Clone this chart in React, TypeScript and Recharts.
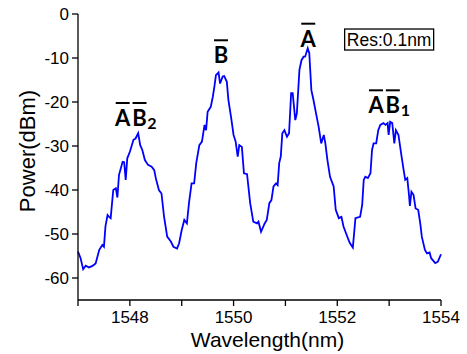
import { LineChart, Line, XAxis, YAxis, ReferenceDot } from "recharts";

// spectrum (nm, dBm)
const wavelength = [
  1547.0, 1547.05, 1547.1, 1547.15, 1547.21, 1547.27, 1547.31, 1547.34, 1547.41, 1547.47,
  1547.5, 1547.53, 1547.57, 1547.6, 1547.63, 1547.68, 1547.73, 1547.76, 1547.79, 1547.86,
  1547.89, 1547.92, 1547.95, 1548.0, 1548.07, 1548.11, 1548.16, 1548.2, 1548.24, 1548.29,
  1548.35, 1548.42, 1548.47, 1548.5, 1548.56, 1548.61, 1548.66, 1548.72, 1548.79, 1548.84,
  1548.91, 1548.95, 1549.0, 1549.05, 1549.1, 1549.14, 1549.19, 1549.24, 1549.28, 1549.34,
  1549.39, 1549.44, 1549.47, 1549.5, 1549.56, 1549.6, 1549.63, 1549.66, 1549.71, 1549.74,
  1549.79, 1549.82, 1549.87, 1549.9, 1549.95, 1550.0, 1550.04, 1550.08, 1550.11, 1550.16,
  1550.2, 1550.26, 1550.32, 1550.38, 1550.45, 1550.48, 1550.53, 1550.6, 1550.64, 1550.69,
  1550.73, 1550.77, 1550.82, 1550.85, 1550.88, 1550.91, 1550.94, 1550.98, 1551.03, 1551.07,
  1551.11, 1551.14, 1551.19, 1551.22, 1551.27, 1551.31, 1551.35, 1551.38, 1551.43, 1551.46,
  1551.5, 1551.54, 1551.59, 1551.64, 1551.69, 1551.74, 1551.77, 1551.81, 1551.86, 1551.93,
  1551.97, 1552.03, 1552.08, 1552.12, 1552.19, 1552.24, 1552.3, 1552.35, 1552.4, 1552.44,
  1552.48, 1552.51, 1552.54, 1552.59, 1552.64, 1552.67, 1552.7, 1552.75, 1552.79, 1552.83,
  1552.89, 1552.93, 1552.97, 1552.99, 1553.02, 1553.06, 1553.1, 1553.13, 1553.18, 1553.24,
  1553.28, 1553.31, 1553.35, 1553.38, 1553.4, 1553.43, 1553.47, 1553.51, 1553.56, 1553.6,
  1553.63, 1553.69, 1553.73, 1553.78, 1553.81, 1553.89, 1553.94, 1554.0,
];

const power = [
  -54.0, -55.5, -58.0, -57.2, -57.6, -57.3, -57.0, -56.7, -53.6, -52.5,
  -52.9, -48.2, -45.7, -46.1, -46.4, -40.0, -39.6, -41.7, -36.6, -33.6,
  -33.7, -37.7, -32.8, -31.3, -28.6, -28.3, -27.1, -29.8, -30.9, -33.2,
  -34.3, -34.7, -35.5, -37.3, -40.0, -40.8, -46.1, -50.6, -51.7, -52.9,
  -53.3, -52.1, -49.1, -46.8, -47.6, -43.0, -38.5, -38.5, -33.9, -29.8,
  -29.0, -25.2, -26.4, -22.2, -21.1, -18.8, -16.5, -13.9, -13.3, -15.8,
  -14.2, -14.1, -15.4, -19.5, -23.3, -27.5, -29.0, -32.4, -29.8, -30.2,
  -36.2, -36.4, -43.0, -47.2, -47.6, -47.2, -49.5, -47.6, -46.8, -43.0,
  -42.3, -39.2, -38.5, -38.9, -33.9, -32.4, -27.1, -26.4, -27.9, -27.1,
  -18.0, -18.0, -24.1, -22.6, -12.7, -10.5, -9.7, -9.7, -7.8, -8.9,
  -17.3, -19.5, -22.6, -25.6, -29.4, -27.5, -29.4, -33.2, -37.0, -39.2,
  -44.5, -46.4, -46.1, -48.3, -50.5, -52.0, -53.1, -46.4, -46.2, -46.1,
  -43.4, -37.7, -37.0, -37.3, -36.2, -30.9, -29.4, -29.4, -26.4, -25.2,
  -24.8, -25.2, -24.8, -27.5, -24.5, -24.8, -29.4, -26.4, -27.5, -32.4,
  -35.5, -37.7, -37.3, -40.8, -43.6, -40.4, -41.1, -44.2, -44.5, -47.6,
  -50.6, -53.6, -54.4, -54.2, -55.5, -56.6, -56.3, -54.6,
];

const xTicks = [1547, 1548, 1549, 1550, 1551, 1552, 1553, 1554];
const yTicks = [-65, -60, -55, -50, -45, -40, -35, -30, -25, -20, -15, -10, -5, 0];

// peak annotations (overlined letters + optional subscript)
const peakLetters = [["A", "B"], ["B"], ["A"], ["A", "B"]];
const peakSubs = ["2", "", "", "1"];
const peakX = [1548.13, 1549.757, 1551.44, 1553.015];
const peakY = [-25.45, -11.2, -7.43, -22.57];

const data = wavelength.map((w, i) => ({ w, p: power[i] }));

const FONT = "'Liberation Sans', Arial, sans-serif";
const LABEL_FONT = "Lato, 'Noto Sans', sans-serif";

function LeftTick(props: any) {
  const { x, y, payload } = props;
  const major = payload.value % 10 === 0;
  return (
    <g>
      <line x1={x - (major ? 6 : 3)} x2={x} y1={y} y2={y} stroke="#000" strokeWidth={1.3} />
      {major && (
        <text x={x - 9} y={y} dy="0.355em" textAnchor="end" fontSize={17} fontFamily={FONT} fill="#000">
          {payload.value}
        </text>
      )}
    </g>
  );
}

// inward ticks for the top and right frame edges
function TopTick(props: any) {
  const { x } = props;
  return <line x1={x} x2={x} y1={14} y2={18} stroke="#000" strokeWidth={1.3} />;
}

function RightTick(props: any) {
  const { y } = props;
  return <line x1={437} x2={441} y1={y} y2={y} stroke="#000" strokeWidth={1.3} />;
}

function PeakLabel(props: any) {
  const { viewBox, letters, sub } = props;
  const cx = viewBox.x + viewBox.width / 2;
  const base = viewBox.y + viewBox.height / 2;
  const step = 16.8;
  const total = 15 + step * (letters.length - 1) + (sub ? 11 : 0);
  const start = cx - total / 2;
  return (
    <g>
      {letters.map((l: string, i: number) => {
        const lx = start + 7.5 + step * i;
        return (
          <g key={i}>
            <text x={lx} y={base} textAnchor="middle" fontSize={22} fontWeight={700} fontFamily={LABEL_FONT} fill="#000">
              {l}
            </text>
            <line x1={lx - 7} x2={lx + 7} y1={base - 23} y2={base - 23} stroke="#000" strokeWidth={2} />
          </g>
        );
      })}
      {sub && (
        <text
          x={start + 7.5 + step * (letters.length - 1) + 12.5}
          y={base + 3}
          textAnchor="middle"
          fontSize={16}
          fontWeight={700}
          fontFamily={LABEL_FONT}
          fill="#000"
        >
          {sub}
        </text>
      )}
    </g>
  );
}

function ResBox(props: any) {
  const { viewBox } = props;
  const cx = viewBox.x + viewBox.width / 2;
  const cy = viewBox.y + viewBox.height / 2;
  return (
    <g>
      <rect x={cx - 44.5} y={cy - 10.5} width={89} height={21} fill="#fff" stroke="#000" strokeWidth={1.3} />
      <text x={cx} y={cy + 6.5} textAnchor="middle" fontSize={17.5} fontFamily={FONT} fill="#000">
        Res:0.1nm
      </text>
    </g>
  );
}

function XTitle(props: any) {
  const { viewBox } = props;
  return (
    <text x={viewBox.x + viewBox.width / 2 + 8} y={346.5} textAnchor="middle" fontSize={21} fontFamily={FONT} fill="#000">
      Wavelength(nm)
    </text>
  );
}

function YTitle(props: any) {
  const { viewBox } = props;
  const x = 35;
  const y = viewBox.y + viewBox.height / 2 - 6;
  return (
    <text x={x} y={y} transform={`rotate(-90 ${x} ${y})`} textAnchor="middle" fontSize={22} fontFamily={FONT} fill="#000">
      Power(dBm)
    </text>
  );
}

export default function App() {
  return (
    <div style={{ position: "absolute", left: 0, top: 0, width: 467, height: 354, background: "#fff" }}>
      <LineChart width={467} height={354} data={data} margin={{ top: 14, right: 26, bottom: 0, left: 0 }}>
        <XAxis
          xAxisId="b"
          dataKey="w"
          type="number"
          domain={[1547, 1554]}
          ticks={xTicks}
          height={54}
          tickSize={6}
          tickMargin={5}
          tickFormatter={(v: number) => (v % 2 === 0 ? String(v) : "")}
          tick={{ fontSize: 17, fontFamily: FONT, fill: "#000" }}
          axisLine={{ stroke: "#000", strokeWidth: 1.3 }}
          tickLine={{ stroke: "#000", strokeWidth: 1.3 }}
          label={<XTitle />}
        />
        <XAxis
          xAxisId="t"
          orientation="top"
          dataKey="w"
          type="number"
          domain={[1547, 1554]}
          ticks={xTicks}
          height={0}
          tickLine={false}
          tick={<TopTick />}
          axisLine={{ stroke: "#000", strokeWidth: 1.3 }}
        />
        <YAxis
          yAxisId="l"
          type="number"
          domain={[-65, 0]}
          ticks={yTicks}
          width={78}
          tickSize={0}
          tickMargin={0}
          tickLine={false}
          tick={<LeftTick />}
          axisLine={{ stroke: "#000", strokeWidth: 1.3 }}
          label={<YTitle />}
        />
        <YAxis
          yAxisId="r"
          orientation="right"
          type="number"
          domain={[-65, 0]}
          ticks={yTicks}
          width={0}
          tickLine={false}
          tick={<RightTick />}
          axisLine={{ stroke: "#000", strokeWidth: 1.3 }}
        />
        <Line
          xAxisId="b"
          yAxisId="l"
          dataKey="p"
          type="linear"
          stroke="#0000ff"
          strokeWidth={1.8}
          dot={false}
          isAnimationActive={false}
        />
        <Line xAxisId="t" yAxisId="r" dataKey="p" stroke="none" dot={false} isAnimationActive={false} />
        {peakX.map((x, i) => (
          <ReferenceDot
            key={i}
            xAxisId="b"
            yAxisId="l"
            x={x}
            y={peakY[i]}
            r={0}
            fill="none"
            stroke="none"
            label={<PeakLabel letters={peakLetters[i]} sub={peakSubs[i]} />}
          />
        ))}
        <ReferenceDot
          xAxisId="b"
          yAxisId="l"
          x={1553.0}
          y={-5.8}
          r={0}
          fill="none"
          stroke="none"
          label={<ResBox />}
        />
      </LineChart>
    </div>
  );
}
